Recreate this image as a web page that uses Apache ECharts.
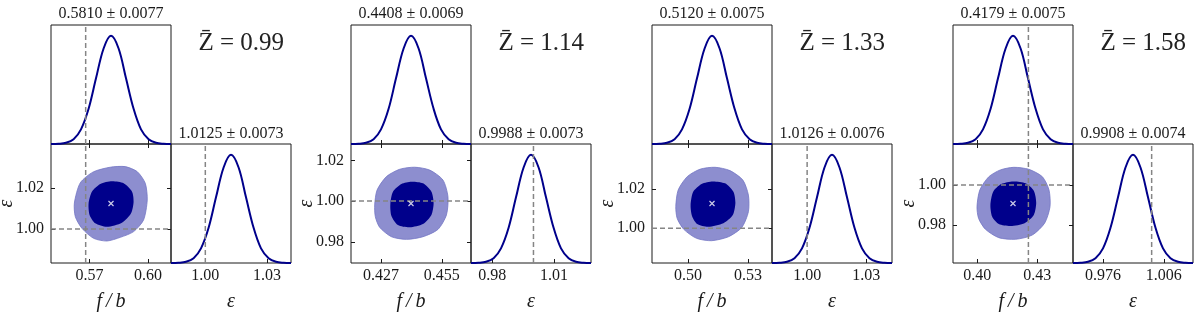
<!DOCTYPE html>
<html><head><meta charset="utf-8">
<script src="https://cdn.jsdelivr.net/npm/echarts@6/dist/echarts.min.js"></script>
<style>html,body{margin:0;padding:0;background:#fff}#c{width:1200px;height:317px}</style>
</head><body><div id="c"></div>
<script>
// ---------- data ----------
const Z_LABELS = ['0.99', '1.14', '1.33', '1.58'];
const FB_MEAN = [0.5810, 0.4408, 0.5120, 0.4179];
const FB_SIG = [0.0077, 0.0069, 0.0075, 0.0075];
const EPS_MEAN = [1.0125, 0.9988, 1.0126, 0.9908];
const EPS_SIG = [0.0073, 0.0073, 0.0076, 0.0074];
const FB_TICKS = [['0.57', '0.60'], ['0.427', '0.455'], ['0.50', '0.53'], ['0.40', '0.43']];
const EPS2D_TICKS = [['1.00', '1.02'], ['0.98', '1.00', '1.02'], ['1.00', '1.02'], ['0.98', '1.00']];
const EPS1D_TICKS = [['1.00', '1.03'], ['0.98', '1.01'], ['1.00', '1.03'], ['0.976', '1.006']];
const TRUTH_FB = [0.568, null, null, 0.4256];
const TRUTH_EPS = [1.00, 1.00, 1.00, 1.00];
const FB_RANGE = [[0.5502, 0.6118], [0.4132, 0.4684], [0.4820, 0.5420], [0.3879, 0.4479]];
const EPS_RANGE = [[0.9833, 1.0417], [0.9696, 1.0280], [0.9822, 1.0430], [0.9612, 1.0204]];

// 1D marginal curves [value, relative density]
const FB_CURVE_1 = [[0.5502,0.000],[0.5541,0.002],[0.5579,0.011],[0.5618,0.044],[0.5656,0.135],[0.5695,0.325],[0.5733,0.607],[0.5772,0.883],[0.5810,1.000],[0.5849,0.883],[0.5887,0.607],[0.5926,0.325],[0.5964,0.135],[0.6003,0.044],[0.6041,0.011],[0.6080,0.002],[0.6118,0.000]];
const EPS_CURVE_1 = [[0.9833,0.000],[0.9869,0.002],[0.9906,0.011],[0.9943,0.044],[0.9979,0.135],[1.0016,0.325],[1.0052,0.607],[1.0089,0.883],[1.0125,1.000],[1.0162,0.883],[1.0198,0.607],[1.0235,0.325],[1.0271,0.135],[1.0308,0.044],[1.0344,0.011],[1.0381,0.002],[1.0417,0.000]];
const FB_CURVE_2 = [[0.4132,0.000],[0.4167,0.002],[0.4201,0.011],[0.4236,0.044],[0.4270,0.135],[0.4305,0.325],[0.4339,0.607],[0.4374,0.883],[0.4408,1.000],[0.4443,0.883],[0.4477,0.607],[0.4512,0.325],[0.4546,0.135],[0.4581,0.044],[0.4615,0.011],[0.4650,0.002],[0.4684,0.000]];
const EPS_CURVE_2 = [[0.9696,0.000],[0.9732,0.002],[0.9769,0.011],[0.9806,0.044],[0.9842,0.135],[0.9879,0.325],[0.9915,0.607],[0.9952,0.883],[0.9988,1.000],[1.0025,0.883],[1.0061,0.607],[1.0098,0.325],[1.0134,0.135],[1.0171,0.044],[1.0207,0.011],[1.0244,0.002],[1.0280,0.000]];
const FB_CURVE_3 = [[0.4820,0.000],[0.4858,0.002],[0.4895,0.011],[0.4933,0.044],[0.4970,0.135],[0.5008,0.325],[0.5045,0.607],[0.5083,0.883],[0.5120,1.000],[0.5158,0.883],[0.5195,0.607],[0.5233,0.325],[0.5270,0.135],[0.5308,0.044],[0.5345,0.011],[0.5383,0.002],[0.5420,0.000]];
const EPS_CURVE_3 = [[0.9822,0.000],[0.9860,0.002],[0.9898,0.011],[0.9936,0.044],[0.9974,0.135],[1.0012,0.325],[1.0050,0.607],[1.0088,0.883],[1.0126,1.000],[1.0164,0.883],[1.0202,0.607],[1.0240,0.325],[1.0278,0.135],[1.0316,0.044],[1.0354,0.011],[1.0392,0.002],[1.0430,0.000]];
const FB_CURVE_4 = [[0.3879,0.000],[0.3917,0.002],[0.3954,0.011],[0.3992,0.044],[0.4029,0.135],[0.4067,0.325],[0.4104,0.607],[0.4142,0.883],[0.4179,1.000],[0.4217,0.883],[0.4254,0.607],[0.4292,0.325],[0.4329,0.135],[0.4367,0.044],[0.4404,0.011],[0.4442,0.002],[0.4479,0.000]];
const EPS_CURVE_4 = [[0.9612,0.000],[0.9649,0.002],[0.9686,0.011],[0.9723,0.044],[0.9760,0.135],[0.9797,0.325],[0.9834,0.607],[0.9871,0.883],[0.9908,1.000],[0.9945,0.883],[0.9982,0.607],[1.0019,0.325],[1.0056,0.135],[1.0093,0.044],[1.0130,0.011],[1.0167,0.002],[1.0204,0.000]];

// 2D credible regions [f/b, eps]
const OUTER_1 = [[0.5622,1.0127],[0.5652,1.0226],[0.5719,1.0280],[0.5806,1.0303],[0.5883,1.0306],[0.5945,1.0281],[0.5986,1.0224],[0.5996,1.0142],[0.5977,1.0044],[0.5926,0.9987],[0.5858,0.9959],[0.5789,0.9941],[0.5721,0.9954],[0.5661,1.0003],[0.5627,1.0060]];
const INNER_1 = [[0.5695,1.0126],[0.5712,1.0183],[0.5755,1.0221],[0.5815,1.0234],[0.5875,1.0224],[0.5918,1.0183],[0.5926,1.0134],[0.5913,1.0077],[0.5866,1.0031],[0.5789,1.0011],[0.5729,1.0028],[0.5700,1.0069]];
const OUTER_2 = [[0.4241,0.9981],[0.4252,1.0054],[0.4295,1.0120],[0.4356,1.0156],[0.4425,1.0166],[0.4494,1.0152],[0.4555,1.0103],[0.4578,1.0021],[0.4571,0.9932],[0.4532,0.9861],[0.4463,0.9825],[0.4387,0.9812],[0.4318,0.9825],[0.4264,0.9871],[0.4244,0.9923]];
const INNER_2 = [[0.4313,0.9986],[0.4325,1.0046],[0.4364,1.0084],[0.4410,1.0095],[0.4463,1.0087],[0.4502,1.0046],[0.4512,0.9989],[0.4502,0.9932],[0.4463,0.9887],[0.4402,0.9871],[0.4348,0.9882],[0.4318,0.9927]];
const OUTER_3 = [[0.4939,1.0110],[0.4951,1.0195],[0.4996,1.0263],[0.5060,1.0301],[0.5135,1.0311],[0.5210,1.0294],[0.5274,1.0246],[0.5302,1.0169],[0.5302,1.0084],[0.5269,1.0004],[0.5202,0.9956],[0.5118,0.9936],[0.5043,0.9948],[0.4979,0.9994],[0.4946,1.0050]];
const INNER_3 = [[0.5013,1.0118],[0.5026,1.0186],[0.5068,1.0226],[0.5124,1.0239],[0.5185,1.0229],[0.5227,1.0186],[0.5237,1.0130],[0.5224,1.0067],[0.5177,1.0025],[0.5101,1.0007],[0.5046,1.0021],[0.5020,1.0062]];
const OUTER_4 = [[0.3999,0.9892],[0.4013,0.9975],[0.4058,1.0041],[0.4116,1.0075],[0.4183,1.0088],[0.4258,1.0078],[0.4326,1.0041],[0.4359,0.9975],[0.4364,0.9892],[0.4337,0.9810],[0.4275,0.9751],[0.4192,0.9730],[0.4108,0.9738],[0.4041,0.9780],[0.4007,0.9834]];
const INNER_4 = [[0.4066,0.9901],[0.4080,0.9967],[0.4120,1.0005],[0.4180,1.0018],[0.4242,1.0009],[0.4283,0.9972],[0.4295,0.9912],[0.4283,0.9851],[0.4237,0.9810],[0.4167,0.9796],[0.4108,0.9806],[0.4075,0.9842]];

// ---------- build ----------
const FB_CURVES = [FB_CURVE_1, FB_CURVE_2, FB_CURVE_3, FB_CURVE_4];
const EPS_CURVES = [EPS_CURVE_1, EPS_CURVE_2, EPS_CURVE_3, EPS_CURVE_4];
const OUTERS = [OUTER_1, OUTER_2, OUTER_3, OUTER_4];
const INNERS = [INNER_1, INNER_2, INNER_3, INNER_4];

const FONT = 'Liberation Serif';
const INK = '#1a1a1a';
const BLUE = '#00008B';
const LIGHT = '#8d8ecf';
const GRAY = '#858585';
const LEFT = [51, 351, 652, 953];
const W = 120, H = 119, TOP1 = 25, TOP2 = 144;
const YMAX = 1.1;

const grids = [], xAxes = [], yAxes = [], series = [], graphics = [];

function fmt(labels) {
  return v => { for (const s of labels) if (Math.abs(parseFloat(s) - v) < 1e-9) return s; return ''; };
}
function tick(vals) {
  return { show: true, inside: true, length: 4, customValues: vals, lineStyle: { color: INK, width: 1 } };
}
function addGrid(left, top) {
  grids.push({ left, top, width: W, height: H, show: true, borderColor: INK, borderWidth: 1, backgroundColor: 'transparent' });
  return grids.length - 1;
}
function addX(g, range, labels, showLabel, position) {
  const vals = labels.map(Number);
  xAxes.push({
    gridIndex: g, type: 'value', min: range[0], max: range[1], position: position || 'bottom',
    axisLine: { show: false }, splitLine: { show: false }, axisTick: tick(vals),
    axisLabel: showLabel ? { show: true, customValues: vals, formatter: fmt(labels), fontFamily: FONT, fontSize: 16, color: INK, margin: 5 } : { show: false }
  });
  return xAxes.length - 1;
}
function addY(g, range, labels, showLabel, position) {
  if (!labels) {
    yAxes.push({ gridIndex: g, type: 'value', min: range[0], max: range[1], show: false });
    return yAxes.length - 1;
  }
  const vals = labels.map(Number);
  yAxes.push({
    gridIndex: g, type: 'value', min: range[0], max: range[1], position: position || 'left',
    axisLine: { show: false }, splitLine: { show: false }, axisTick: tick(vals),
    axisLabel: showLabel ? { show: true, customValues: vals, formatter: fmt(labels), fontFamily: FONT, fontSize: 16, color: INK, margin: 7 } : { show: false }
  });
  return yAxes.length - 1;
}
function curve(xi, yi, data) {
  return { type: 'line', xAxisIndex: xi, yAxisIndex: yi, data, showSymbol: false, smooth: 0.35, silent: true, z: 3,
    lineStyle: { color: BLUE, width: 2 } };
}
function dashed(xi, yi, data) {
  return { type: 'line', xAxisIndex: xi, yAxisIndex: yi, data, showSymbol: false, silent: true, z: 4,
    lineStyle: { color: GRAY, width: 1.5, type: [5, 3] } };
}
function region(xi, yi, pts, fill, stroke, z) {
  return {
    type: 'custom', xAxisIndex: xi, yAxisIndex: yi, data: [pts[0]], silent: true, z,
    renderItem: (params, api) => ({
      type: 'polygon',
      shape: { points: pts.map(q => api.coord(q)), smooth: 0.25 },
      style: { fill, stroke: stroke || null, lineWidth: stroke ? 0.8 : 0 }
    })
  };
}

for (let p = 0; p < 4; p++) {
  const L = LEFT[p];
  // top: f/b marginal
  const g0 = addGrid(L, TOP1);
  const x0 = addX(g0, FB_RANGE[p], FB_TICKS[p], false);
  const y0 = addY(g0, [0, YMAX]);
  if (TRUTH_FB[p] !== null) series.push(dashed(x0, y0, [[TRUTH_FB[p], 0], [TRUTH_FB[p], YMAX]]));
  series.push(curve(x0, y0, FB_CURVES[p]));

  // 2D
  const g1 = addGrid(L, TOP2);
  const x1 = addX(g1, FB_RANGE[p], FB_TICKS[p], true, 'bottom');
  addX(g1, FB_RANGE[p], FB_TICKS[p], false, 'top');
  const y1 = addY(g1, EPS_RANGE[p], EPS2D_TICKS[p], true, 'left');
  addY(g1, EPS_RANGE[p], EPS2D_TICKS[p], false, 'right');
  series.push(region(x1, y1, OUTERS[p], LIGHT, '#7476c4', 1));
  series.push(region(x1, y1, INNERS[p], BLUE, null, 2));
  if (TRUTH_FB[p] !== null) series.push(dashed(x1, y1, [[TRUTH_FB[p], EPS_RANGE[p][0]], [TRUTH_FB[p], EPS_RANGE[p][1]]]));
  series.push(dashed(x1, y1, [[FB_RANGE[p][0], TRUTH_EPS[p]], [FB_RANGE[p][1], TRUTH_EPS[p]]]));
  series.push({
    type: 'scatter', xAxisIndex: x1, yAxisIndex: y1, data: [[FB_MEAN[p], EPS_MEAN[p]]], silent: true, z: 6,
    symbol: 'path://M0,0L10,10M10,0L0,10', symbolSize: 5,
    itemStyle: { color: 'transparent', borderColor: '#ffffff', borderWidth: 1.2 }
  });

  // eps marginal
  const g2 = addGrid(L + W, TOP2);
  const x2 = addX(g2, EPS_RANGE[p], EPS1D_TICKS[p], true);
  const y2 = addY(g2, [0, YMAX]);
  series.push(dashed(x2, y2, [[TRUTH_EPS[p], 0], [TRUTH_EPS[p], YMAX]]));
  series.push(curve(x2, y2, EPS_CURVES[p]));

  // texts
  graphics.push({ type: 'text', x: L + W / 2, y: 13.5, silent: true,
    style: { text: FB_MEAN[p].toFixed(4) + ' \u00b1 ' + FB_SIG[p].toFixed(4), font: '16px "' + FONT + '"', fill: INK, align: 'center', verticalAlign: 'middle' } });
  graphics.push({ type: 'text', x: L + W * 1.5, y: 133.5, silent: true,
    style: { text: EPS_MEAN[p].toFixed(4) + ' \u00b1 ' + EPS_SIG[p].toFixed(4), font: '16px "' + FONT + '"', fill: INK, align: 'center', verticalAlign: 'middle' } });
  graphics.push({ type: 'text', x: L + 233, y: 43, silent: true,
    style: { text: 'Z\u0304 = ' + Z_LABELS[p], font: '25px "' + FONT + '"', fill: '#222', align: 'right', verticalAlign: 'middle' } });
  graphics.push({ type: 'text', x: L + W / 2, y: 302, silent: true,
    style: { text: 'f\u2009/\u2009b', font: 'italic 20px "' + FONT + '"', fill: INK, align: 'center', verticalAlign: 'middle' } });
  graphics.push({ type: 'text', x: L + W * 1.5, y: 302, silent: true,
    style: { text: '\u03b5', font: 'italic 20px "' + FONT + '"', fill: INK, align: 'center', verticalAlign: 'middle' } });
  graphics.push({ type: 'text', x: L - 44, y: TOP2 + H / 2, rotation: Math.PI / 2, silent: true,
    style: { text: '\u03b5', font: 'italic 20px "' + FONT + '"', fill: INK, align: 'center', verticalAlign: 'middle' } });
}

const chart = echarts.init(document.getElementById('c'), null, { renderer: 'canvas' });
chart.setOption({
  animation: false,
  backgroundColor: '#ffffff',
  grid: grids, xAxis: xAxes, yAxis: yAxes, series, graphic: graphics
});
</script></body></html>
